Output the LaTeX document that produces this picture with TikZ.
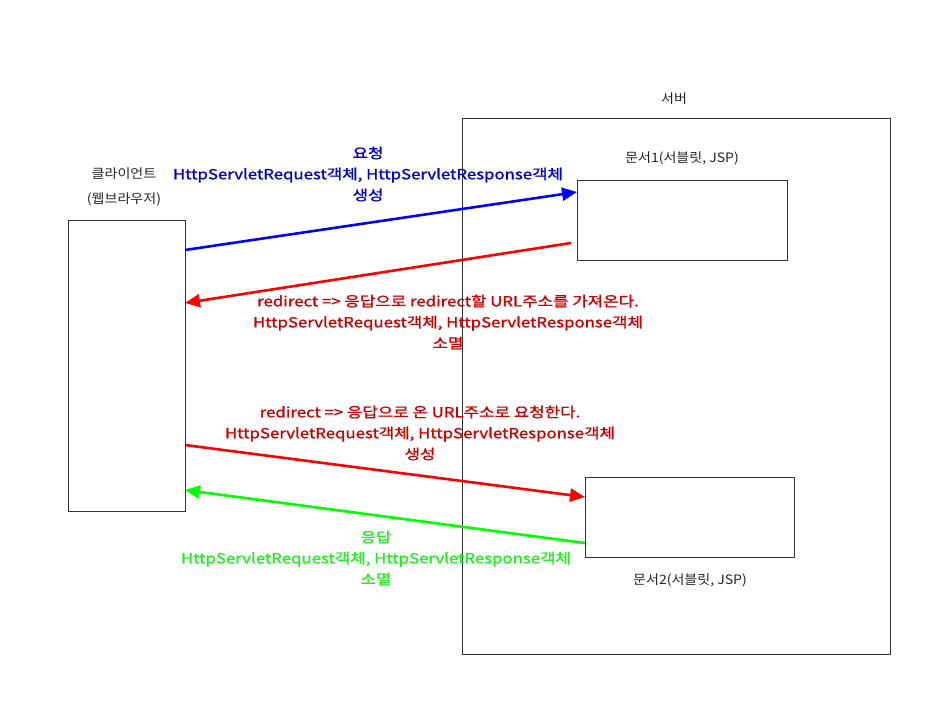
\documentclass[tikz,border=0pt]{standalone}
\usepackage{fontspec}
\setmainfont{Noto Sans CJK KR}
\newfontfamily\msgfont[FakeStretch=1.2, FakeBold=1.2]{Noto Sans CJK KR}
\newfontfamily\lblfont[FakeStretch=1.08]{Noto Sans CJK KR}
\usetikzlibrary{arrows.meta}
\definecolor{ablue}{HTML}{0000FF}
\definecolor{tblue}{HTML}{0000CC}
\definecolor{ared}{HTML}{FF0000}
\definecolor{tred}{HTML}{CC0000}
\definecolor{agreen}{HTML}{00FF00}
\definecolor{tgreen}{HTML}{22EE22}
\definecolor{boxline}{HTML}{333333}
\tikzset{
  box/.style={draw=boxline, line width=0.9pt, fill=white, inner sep=0pt, anchor=north west},
  lbl/.style={font=\lblfont\fontsize{13}{15}\selectfont, text=black!85, inner sep=0pt},
  msg/.style={font=\msgfont\fontsize{14}{21}\selectfont, align=center, inner sep=0pt},
  arr/.style={line width=2.6pt, -{Triangle[length=15pt,width=13pt]}}
}
\begin{document}
\begin{tikzpicture}[x=1pt,y=-1pt]
\useasboundingbox (0,0) rectangle (941,705);
% server
\node[box, minimum width=428pt, minimum height=536pt] (server) at (462,118) {};
\node[lbl] (serverlbl) at (674,99) {서버};
% client
\node[box, minimum width=117pt, minimum height=291pt] (client) at (68,220) {};
\node[lbl, align=center, font=\lblfont\fontsize{13}{25}\selectfont] (clientlbl) at (124,187) {클라이언트\\(웹브라우저)};
% documents
\node[box, minimum width=210pt, minimum height=80pt] (doc1) at (577,180) {};
\node[lbl] (doc1lbl) at (682,158) {문서1(서블릿, JSP)};
\node[box, minimum width=209pt, minimum height=80pt] (doc2) at (585,477) {};
\node[lbl] (doc2lbl) at (690,580) {문서2(서블릿, JSP)};
% endpoints
\coordinate (c1) at (185,250);
\coordinate (c2) at (185,303);
\coordinate (c3) at (185,445);
\coordinate (c4) at (185,490);
\coordinate (d1in) at (577,192);
\coordinate (d1out) at (571,243);
\coordinate (d2in) at (585,497);
\coordinate (d2out) at (585,543);
% arrows
\draw[arr, draw=ablue, fill=ablue] (c1) -- (d1in);
\draw[arr, draw=ared, fill=ared] (d1out) -- (c2);
\draw[arr, draw=ared, fill=ared] (c3) -- (d2in);
\draw[arr, draw=agreen, fill=agreen] (d2out) -- (c4);
% messages
\node[msg, text=tblue] (m1) at (368,174) {요청\\HttpServletRequest객체, HttpServletResponse객체\\생성};
\node[msg, text=tred] (m2) at (448,322) {redirect => 응답으로 redirect할 URL주소를 가져온다.\\HttpServletRequest객체, HttpServletResponse객체\\소멸};
\node[msg, text=tred] (m3) at (420,433) {redirect => 응답으로 온 URL주소로 요청한다.\\HttpServletRequest객체, HttpServletResponse객체\\생성};
\node[msg, text=tgreen] (m4) at (376,558) {응답\\HttpServletRequest객체, HttpServletResponse객체\\소멸};
\end{tikzpicture}
\end{document}
